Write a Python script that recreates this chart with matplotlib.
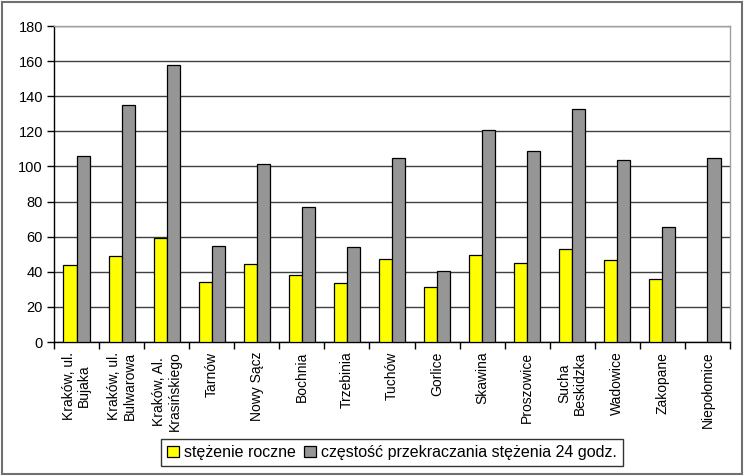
import matplotlib
matplotlib.use("Agg")
import matplotlib.pyplot as plt
import numpy as np
from matplotlib.patches import Rectangle

categories = ["Kraków, ul.\nBujaka", "Kraków, ul.\nBulwarowa", "Kraków, Al.\nKrasińskiego",
              "Tarnów", "Nowy Sącz", "Bochnia", "Trzebinia", "Tuchów", "Gorlice",
              "Skawina", "Proszowice", "Sucha\nBeskidzka", "Wadowice", "Zakopane", "Niepołomice"]
stezenie = [44, 49, 59.5, 34, 44.7, 38.3, 33.8, 47.5, 31.2, 49.6, 45.2, 53.2, 46.8, 36.1, np.nan]
czestosc = [106, 135, 158, 54.5, 101.5, 76.8, 54, 105, 40.5, 121, 108.7, 132.5, 103.6, 65.4, 105]
yticks = [0, 20, 40, 60, 80, 100, 120, 140, 160, 180]

plt.rcParams['font.family'] = ['Liberation Sans', 'DejaVu Sans']

fig = plt.figure(figsize=(7.45, 4.76), dpi=100)
ax = fig.add_axes([54/745, 1-342/476, (730-54)/745, (342-26)/476])

x = np.arange(len(categories))
w = 0.29
ax.bar(x - w/2, stezenie, w, color='#FFFF00', edgecolor='black', linewidth=0.9,
       label='stężenie roczne', zorder=3)
ax.bar(x + w/2, czestosc, w, color='#969696', edgecolor='black', linewidth=0.9,
       label='częstość przekraczania stężenia 24 godz.', zorder=3)

ax.set_xlim(-0.5, len(categories) - 0.5)
ax.set_ylim(0, 180)
ax.set_yticks(yticks)
ax.set_yticklabels([str(t) for t in yticks], fontsize=10.5)
ax.yaxis.grid(True, color='#404040', linewidth=1, zorder=0)
ax.set_axisbelow(True)

ax.set_xticks(np.arange(len(categories) + 1) - 0.5)
ax.set_xticklabels([])
ax.set_xticks(x, minor=True)
ax.set_xticklabels(categories, minor=True, rotation=90, fontsize=10, va='top', ha='center',
                   multialignment='center', linespacing=1.15)
ax.tick_params(axis='x', which='minor', length=0, pad=7)
ax.tick_params(axis='x', which='major', length=5, width=1, direction='out')
ax.tick_params(axis='y', length=5, width=1, direction='out', pad=3)

ax.spines['left'].set_color('black')
ax.spines['bottom'].set_color('black')
ax.spines['top'].set_color('#a0a0a0')
ax.spines['right'].set_color('#a0a0a0')
for s in ax.spines.values():
    s.set_linewidth(1)
ax.spines['top'].set_zorder(4)

leg = fig.legend(loc='center', bbox_to_anchor=(392/745, 1-452.5/476), ncol=2, fontsize=11.5,
                 frameon=True, fancybox=False, edgecolor='black', handlelength=0.75,
                 handleheight=0.75, handletextpad=0.3, columnspacing=0.5,
                 borderpad=0.4, borderaxespad=0)
leg.get_frame().set_linewidth(1)

fig.patches.append(Rectangle((2/745, 2/476), 740/745, 472/476, transform=fig.transFigure,
                             fill=False, edgecolor='#707070', linewidth=1.5))

fig.savefig('out.png', dpi=100)
